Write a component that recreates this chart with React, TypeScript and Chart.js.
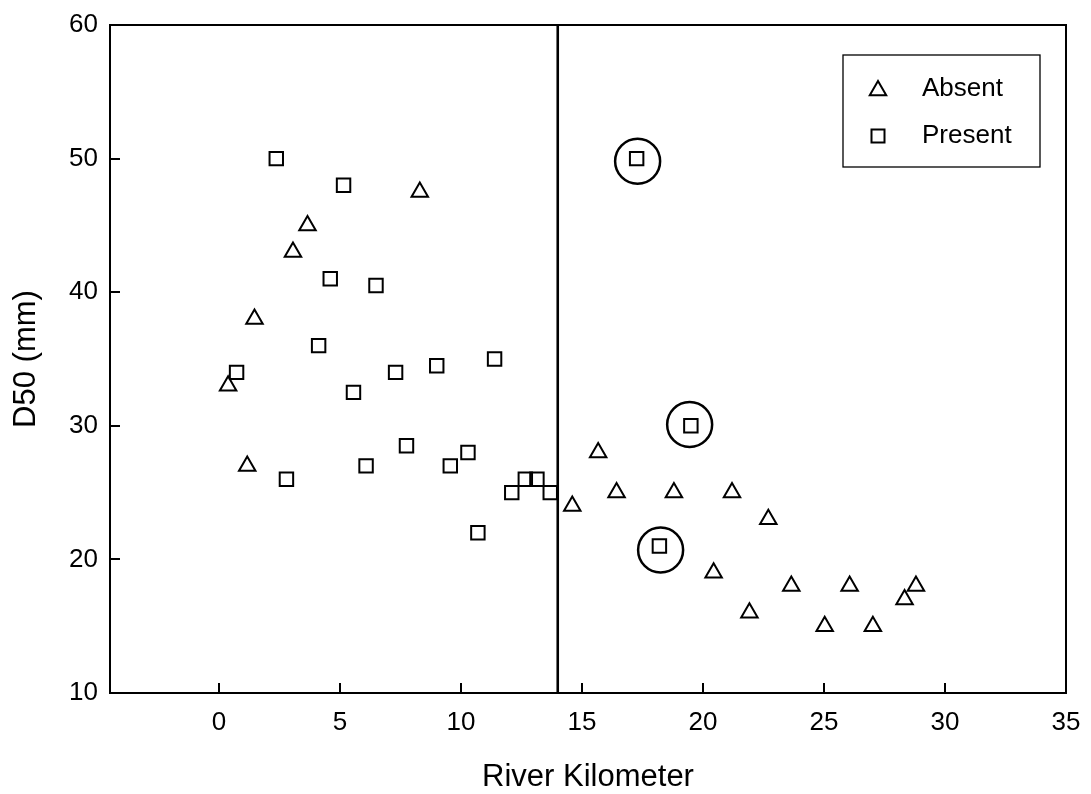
import React, { useEffect, useRef } from 'react';
import { Chart, registerables } from 'chart.js';

Chart.register(...registerables);

// ---- data ----
const seriesLabels = ['Absent', 'Present'];

const absentX = [0.38, 1.17, 1.47, 3.06, 3.66, 8.3, 14.6, 15.67, 16.43, 18.8, 20.44, 21.2, 21.92, 22.7, 23.65, 25.03, 26.06, 27.02, 28.33, 28.8];
const absentY = [33, 27, 38, 43, 45, 47.5, 24, 28, 25, 25, 19, 25, 16, 23, 18, 15, 18, 15, 17, 18];

const presentX = [0.73, 2.37, 2.79, 4.12, 4.6, 5.15, 5.56, 6.08, 6.49, 7.3, 7.75, 9.0, 9.56, 10.29, 10.7, 11.39, 12.1, 12.66, 13.14, 13.69, 17.26, 19.5, 18.2];
const presentY = [34, 50, 26, 36, 41, 48, 32.5, 27, 40.5, 34, 28.5, 34.5, 27, 28, 22, 35, 25, 26, 26, 25, 50, 30, 21];

const circledX = [17.3, 19.45, 18.25];
const circledY = [49.8, 30.1, 20.7];

const dividerX = 14;

const xTicks = [0, 5, 10, 15, 20, 25, 30, 35];
const yTicks = [10, 20, 30, 40, 50, 60];
const xMin = -4.5;
const xMax = 35;
const yMin = 10;
const yMax = 60;

const xTitle = 'River Kilometer';
const yTitle = 'D50 (mm)';

const FONT = "'Liberation Sans', Arial, Helvetica, sans-serif";

function toPoints(xs: number[], ys: number[]) {
  return xs.map((x, i) => ({ x, y: ys[i] }));
}

function drawTriangle(ctx: CanvasRenderingContext2D, x: number, y: number, r: number) {
  const c = Math.cos(Math.PI / 6) * r;
  ctx.beginPath();
  ctx.moveTo(x, y - r);
  ctx.lineTo(x + c, y + r / 2);
  ctx.lineTo(x - c, y + r / 2);
  ctx.closePath();
  ctx.stroke();
}

const framePlugin = {
  id: 'frameAndLegend',
  afterDraw(chart: any) {
    const { ctx, chartArea } = chart;
    const { left, right, top, bottom } = chartArea;
    const xs = chart.scales.x;
    const ys = chart.scales.y;
    ctx.save();
    ctx.strokeStyle = '#000';
    ctx.lineWidth = 2;
    ctx.strokeRect(left, top, right - left, bottom - top);
    // inward ticks
    const tl = 10;
    ctx.beginPath();
    xTicks.forEach((v) => {
      const px = Math.round(xs.getPixelForValue(v));
      ctx.moveTo(px, bottom);
      ctx.lineTo(px, bottom - tl);
    });
    yTicks.forEach((v) => {
      const py = Math.round(ys.getPixelForValue(v));
      ctx.moveTo(left, py);
      ctx.lineTo(left + tl, py);
    });
    ctx.stroke();

    // legend
    const bx = right - 223;
    const by = top + 30;
    const bw = 197;
    const bh = 112;
    ctx.lineWidth = 1.3;
    ctx.strokeRect(bx, by, bw, bh);
    ctx.lineWidth = 2;
    const mx = bx + 35;
    const tx = bx + 79;
    const y1 = by + 34;
    const y2 = by + 81;
    drawTriangle(ctx, mx, y1 + 1.5, 9.5);
    ctx.strokeRect(mx - 6.5, y2 - 6.5, 13, 13);
    ctx.fillStyle = '#000';
    ctx.font = `26px ${FONT}`;
    ctx.textBaseline = 'middle';
    ctx.textAlign = 'left';
    ctx.fillText(seriesLabels[0], tx, y1);
    ctx.fillText(seriesLabels[1], tx, y2);
    ctx.restore();
  },
};

export default function App() {
  const canvasRef = useRef<HTMLCanvasElement | null>(null);

  useEffect(() => {
    const canvas = canvasRef.current;
    if (!canvas) return;
    const chart = new Chart(canvas, {
      type: 'scatter',
      data: {
        datasets: [
          {
            label: 'divider',
            data: [
              { x: dividerX, y: yMin },
              { x: dividerX, y: yMax },
            ],
            showLine: true,
            borderColor: '#000',
            borderWidth: 2.6,
            pointRadius: 0,
          },
          {
            label: seriesLabels[0],
            data: toPoints(absentX, absentY),
            pointStyle: 'triangle',
            pointRadius: 9.5,
            pointBorderWidth: 2,
            borderColor: '#000',
            backgroundColor: 'rgba(0,0,0,0)',
            pointBorderColor: '#000',
            pointBackgroundColor: 'rgba(0,0,0,0)',
          },
          {
            label: seriesLabels[1],
            data: toPoints(presentX, presentY),
            pointStyle: 'rect',
            pointRadius: 9.5,
            pointBorderWidth: 2,
            borderColor: '#000',
            backgroundColor: 'rgba(0,0,0,0)',
            pointBorderColor: '#000',
            pointBackgroundColor: 'rgba(0,0,0,0)',
          },
          {
            label: 'circled',
            data: toPoints(circledX, circledY),
            pointStyle: 'circle',
            pointRadius: 22.5,
            pointBorderWidth: 2.5,
            borderColor: '#000',
            backgroundColor: 'rgba(0,0,0,0)',
            pointBorderColor: '#000',
            pointBackgroundColor: 'rgba(0,0,0,0)',
          },
        ],
      },
      options: {
        responsive: false,
        animation: false,
        events: [],
        layout: { padding: { left: 0, top: 21, right: 20, bottom: 0 } },
        plugins: {
          legend: { display: false },
          tooltip: { enabled: false },
          title: { display: false },
        },
        scales: {
          x: {
            type: 'linear',
            min: xMin,
            max: xMax,
            grid: { display: false, drawTicks: false },
            border: { display: false },
            afterBuildTicks: (scale: any) => {
              scale.ticks = xTicks.map((v) => ({ value: v }));
            },
            afterFit: (scale: any) => {
              scale.height = 101;
              scale.paddingLeft = 0;
              scale.paddingRight = 0;
            },
            ticks: {
              autoSkip: false,
              maxRotation: 0,
              minRotation: 0,
              padding: 14,
              color: '#000',
              font: { family: FONT, size: 26 },
            },
            title: {
              display: true,
              text: xTitle,
              color: '#000',
              font: { family: FONT, size: 31 },
              padding: { top: 0, bottom: -2 },
            },
          },
          y: {
            type: 'linear',
            min: yMin,
            max: yMax,
            grid: { display: false, drawTicks: false },
            border: { display: false },
            afterBuildTicks: (scale: any) => {
              scale.ticks = yTicks.map((v) => ({ value: v }));
            },
            afterFit: (scale: any) => {
              scale.width = 110;
              scale.paddingTop = 0;
              scale.paddingBottom = 0;
            },
            ticks: {
              padding: 12,
              color: '#000',
              font: { family: FONT, size: 26 },
            },
            title: {
              display: true,
              text: yTitle,
              color: '#000',
              font: { family: FONT, size: 31 },
              padding: { top: 8, bottom: 0 },
            },
          },
        },
      },
      plugins: [framePlugin],
    });
    return () => chart.destroy();
  }, []);

  return (
    <div style={{ position: 'fixed', left: 0, top: 0, width: 1091, height: 794, background: '#fff' }}>
      <canvas ref={canvasRef} width={1091} height={794} style={{ display: 'block' }} />
    </div>
  );
}
